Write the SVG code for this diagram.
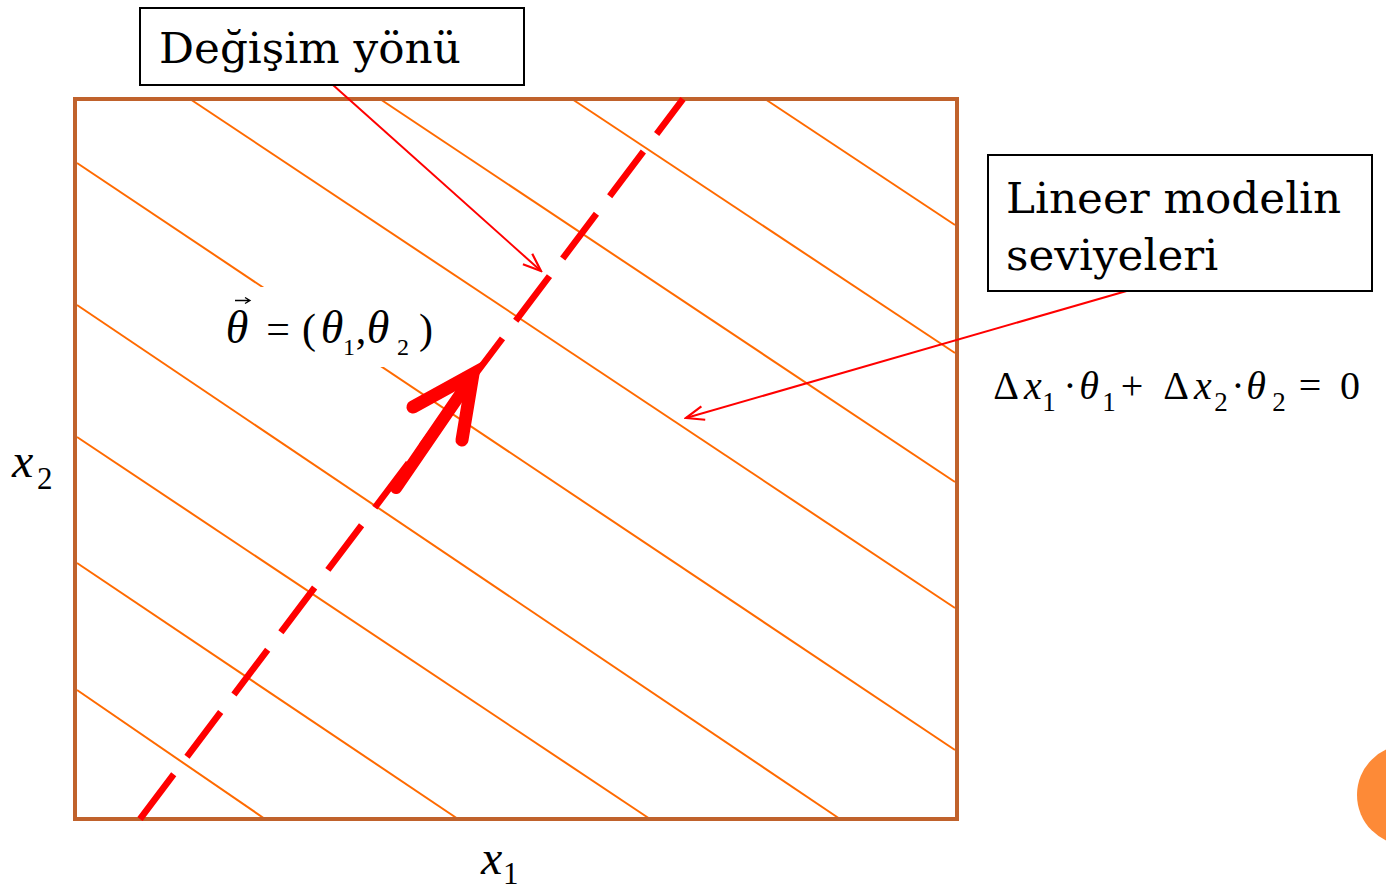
<svg xmlns="http://www.w3.org/2000/svg" width="1386" height="889" viewBox="0 0 1386 889">
<style>
.lvl{stroke:#FF6A00;stroke-width:2;fill:none}
.box{fill:#fff;stroke:#000;stroke-width:2}
.lbl{font-family:"DejaVu Serif","Liberation Serif",serif;font-size:43.7px;fill:#000}
.ptr{stroke:#FF0000;stroke-width:2;fill:none;marker-end:url(#open)}
</style>
<defs>
<marker id="open" viewBox="0 0 22 18" refX="20" refY="9" markerWidth="22" markerHeight="18" markerUnits="userSpaceOnUse" orient="auto">
<path d="M2,2 L20,9 L2,16" fill="none" stroke="#FF0000" stroke-width="2.2"/>
</marker>
</defs>
<rect width="1386" height="889" fill="#fff"/>
<circle cx="1407" cy="795" r="50" fill="#FD8A37"/>
<g id="levels">
<line class="lvl" x1="190" y1="99" x2="955" y2="608"/>
<line class="lvl" x1="380" y1="99" x2="955" y2="482"/>
<line class="lvl" x1="572" y1="99" x2="955" y2="353"/>
<line class="lvl" x1="765" y1="99" x2="955" y2="225"/>
<line class="lvl" x1="77" y1="163" x2="955" y2="750"/>
<line class="lvl" x1="77" y1="305" x2="840" y2="819"/>
<line class="lvl" x1="77" y1="437" x2="650" y2="819"/>
<line class="lvl" x1="77" y1="563" x2="458" y2="819"/>
<line class="lvl" x1="77" y1="690" x2="265" y2="819"/>
</g>
<rect id="frame" x="75" y="99" width="882" height="720" fill="none" stroke="#C0622C" stroke-width="4"/>
<g id="theta-label" font-family="'Liberation Serif', 'Times New Roman', serif" fill="#000" text-anchor="middle">
<rect x="215" y="287" width="230" height="80" fill="#fff"/>
<path d="M235,300.5 H249 M245,297.5 L250,300.5 L245,303.5" fill="none" stroke="#000" stroke-width="1.3"/>
<text x="237" y="343" font-size="46" font-style="italic">θ</text>
<text x="278" y="343" font-size="42">=</text>
<text x="309" y="343" font-size="42">(</text>
<text x="332" y="343" font-size="46" font-style="italic">θ</text>
<text x="349" y="355" font-size="24">1</text>
<text x="361" y="343" font-size="42">,</text>
<text x="378" y="343" font-size="46" font-style="italic">θ</text>
<text x="403" y="355" font-size="24">2</text>
<text x="426" y="343" font-size="42">)</text>
</g>
<g id="connectors">
<line x1="140" y1="819" x2="683" y2="99" stroke="#FF0000" stroke-width="6.5" stroke-dasharray="56 22"/>
<line x1="396" y1="488" x2="470" y2="380" stroke="#FF0000" stroke-width="12" stroke-linecap="round"/>
<path d="M413,407 L473,374 L462,440" fill="none" stroke="#FF0000" stroke-width="13" stroke-linecap="round" stroke-linejoin="miter"/>
<line class="ptr" x1="333" y1="85" x2="541" y2="271"/>
<line class="ptr" x1="1130" y1="290" x2="686" y2="418"/>
</g>
<g id="box-degisim">
<rect class="box" x="140" y="8" width="384" height="77"/>
<text class="lbl" x="159" y="63">Değişim yönü</text>
</g>
<g id="box-lineer">
<rect class="box" x="988" y="155" width="384" height="136"/>
<text class="lbl" x="1006" y="213">Lineer modelin</text>
<text class="lbl" x="1006" y="270">seviyeleri</text>
</g>
<g id="equation" font-family="'Liberation Serif', 'Times New Roman', serif" font-size="40" fill="#000" text-anchor="middle">
<text x="1006" y="399">Δ</text>
<text x="1033" y="399" font-style="italic">x</text>
<text x="1049" y="411" font-size="27">1</text>
<text x="1070" y="399">·</text>
<text x="1089" y="399" font-style="italic">θ</text>
<text x="1109" y="411" font-size="27">1</text>
<text x="1132" y="399">+</text>
<text x="1176" y="399">Δ</text>
<text x="1203" y="399" font-style="italic">x</text>
<text x="1221" y="411" font-size="27">2</text>
<text x="1238" y="399">·</text>
<text x="1256" y="399" font-style="italic">θ</text>
<text x="1279" y="411" font-size="27">2</text>
<text x="1310" y="399">=</text>
<text x="1350" y="399">0</text>
</g>
<g id="axis-x2" font-family="'Liberation Serif', 'Times New Roman', serif" fill="#000">
<text x="12" y="477" font-size="48" font-style="italic">x</text>
<text x="37" y="489" font-size="31">2</text>
</g>
<g id="axis-x1" font-family="'Liberation Serif', 'Times New Roman', serif" fill="#000">
<text x="481" y="874" font-size="48" font-style="italic">x</text>
<text x="503" y="884" font-size="31">1</text>
</g>
</svg>
